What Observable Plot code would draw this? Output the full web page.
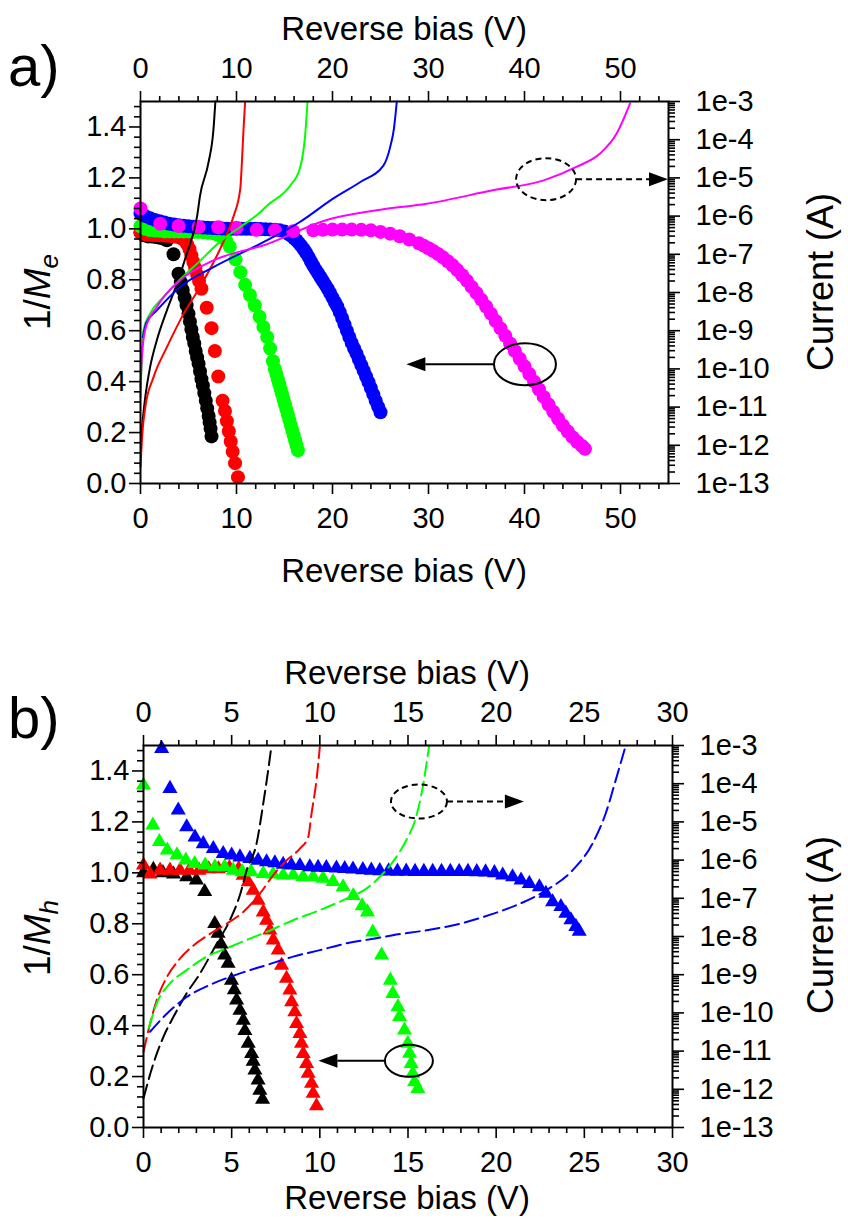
<!DOCTYPE html>
<html>
<head>
<meta charset="utf-8">
<script src="https://cdn.jsdelivr.net/npm/d3@7"></script>
<script src="https://cdn.jsdelivr.net/npm/@observablehq/plot@0.6"></script>
<style>
  body { margin: 0; background: #fff; }
  #fig { position: relative; width: 848px; height: 1222px; background: #fff; }
  #fig svg { position: absolute; left: 0; overflow: visible; }
</style>
</head>
<body>
<div id="fig"></div>
<script>
// ---------- Panel a: electron multiplication (circles) and I–V curves (solid) ----------
// 1/Me versus reverse bias [V, 1/Me]
const meBlack = [[0,0.985],[0.4,0.975],[0.8,0.97],[1.2,0.97],[1.6,0.968],[2.0,0.965],[2.4,0.962],[2.75,0.955],[3.44,0.9],[3.96,0.824],[4.2,0.79],[4.4,0.76],[4.6,0.73],[4.8,0.7],[5.0,0.667],[5.15,0.635],[5.3,0.605],[5.45,0.575],[5.6,0.55],[5.75,0.52],[5.9,0.495],[6.05,0.47],[6.2,0.44],[6.35,0.41],[6.5,0.385],[6.65,0.355],[6.8,0.325],[6.95,0.295],[7.1,0.265],[7.2,0.24],[7.3,0.215],[7.4,0.185]];
const meRed = [[0,0.985],[0.4,0.98],[0.8,0.978],[1.2,0.976],[1.6,0.975],[2.0,0.975],[2.4,0.974],[2.8,0.973],[3.2,0.972],[3.6,0.97],[4.0,0.968],[4.3,0.962],[4.6,0.955],[4.85,0.94],[5.1,0.92],[5.3,0.895],[5.5,0.87],[5.7,0.845],[5.9,0.82],[6.1,0.795],[6.35,0.765],[6.9,0.69],[7.4,0.61],[7.75,0.52],[8.1,0.42],[8.55,0.325],[8.8,0.285],[9.0,0.245],[9.2,0.205],[9.4,0.165],[9.6,0.125],[9.85,0.08],[10.15,0.025]];
const meGreen = [[0,1.01],[0.5,1.0],[1.0,0.995],[1.5,0.993],[2.0,0.992],[2.5,0.99],[3,0.99],[3.5,0.99],[4,0.99],[4.5,0.99],[5,0.99],[5.5,0.988],[6,0.988],[6.5,0.987],[7,0.985],[7.5,0.983],[8,0.978],[8.5,0.968],[8.9,0.955],[9.3,0.93],[9.9,0.88],[10.4,0.83],[10.9,0.78],[11.4,0.74],[11.9,0.7],[12.4,0.655],[12.8,0.615],[13.2,0.575],[13.5,0.53],[13.8,0.48],[14.0,0.45],[14.15,0.43],[14.3,0.41],[14.45,0.39],[14.6,0.37],[14.75,0.35],[14.9,0.33],[15.05,0.31],[15.2,0.29],[15.35,0.27],[15.5,0.25],[15.65,0.23],[15.8,0.21],[15.95,0.19],[16.1,0.17],[16.25,0.15],[16.4,0.13]];
const meBlue = [[0,1.06],[0.5,1.05],[1,1.042],[1.5,1.035],[2,1.03],[2.5,1.025],[3,1.02],[3.5,1.017],[4,1.014],[4.5,1.012],[5,1.01],[5.5,1.008],[6,1.006],[6.5,1.005],[7,1.004],[7.5,1.003],[8,1.002],[8.5,1.001],[9,1.0],[9.5,1.0],[10,1.0],[10.5,1.0],[11,1.0],[11.5,1.0],[12,1.0],[12.5,0.999],[13,0.998],[13.5,0.997],[14,0.996],[14.5,0.994],[15,0.99],[15.25,0.985],[15.5,0.978],[15.75,0.972],[16,0.963],[16.25,0.955],[16.5,0.944],[16.75,0.933],[17,0.92],[17.25,0.906],[17.5,0.89],[17.75,0.872],[18,0.855],[18.25,0.84],[18.5,0.825],[18.75,0.81],[19,0.795],[19.25,0.78],[19.5,0.765],[19.75,0.748],[20,0.73],[20.25,0.712],[20.5,0.695],[20.75,0.673],[21,0.65],[21.25,0.625],[21.5,0.6],[21.75,0.575],[22,0.552],[22.25,0.53],[22.5,0.51],[22.75,0.487],[23,0.465],[23.25,0.443],[23.5,0.42],[23.75,0.398],[24,0.375],[24.25,0.35],[24.5,0.325],[24.75,0.302],[25,0.28]];
const meMagenta = [[0,1.08],[2.05,1.02],[3.96,1.011],[6.05,1.007],[8.1,1.006],[10.0,1.004],[12.1,0.996],[14.0,0.994],[15.9,0.991],[18.0,0.994],[19.0,0.996],[20.0,0.997],[21.0,0.997],[22.0,0.997],[23.0,0.996],[24.0,0.994],[25.0,0.988],[26.0,0.981],[27.0,0.971],[28.0,0.958],[29.0,0.943],[29.5,0.934],[30,0.924],[30.5,0.913],[31,0.901],[31.5,0.888],[32,0.873],[32.5,0.857],[33,0.838],[33.5,0.818],[34,0.796],[34.5,0.772],[35,0.748],[35.5,0.722],[36,0.695],[36.5,0.667],[37,0.638],[37.5,0.609],[38,0.58],[38.5,0.55],[39,0.52],[39.5,0.49],[40,0.46],[40.5,0.43],[41,0.4],[41.5,0.37],[42,0.34],[42.5,0.31],[43,0.282],[43.5,0.254],[44,0.228],[44.5,0.204],[45,0.182],[45.5,0.163],[46,0.147],[46.3,0.136]];

// Current versus reverse bias [V, current in A]
const ivaBlack = [[0.05,1.6e-12],[0.5,1.85e-11],[1.0,1.11e-10],[1.7,5.6e-10],[2.75,3.4e-9],[3.8,1.7e-8],[4.8,1.0e-7],[5.9,1.0e-6],[6.2,3.4e-6],[7.08,2.5e-5],[7.6,1.85e-4],[7.8,1.0e-3]];
const ivaRed = [[0,2.7e-13],[0.2,2.15e-12],[0.5,1.0e-11],[1.36,6.1e-11],[2.75,3.7e-10],[4.5,2.8e-9],[6.2,1.4e-8],[7.9,8.6e-8],[9.0,3.4e-7],[9.7,1.0e-6],[10.4,5.4e-6],[10.56,2.5e-5],[10.73,1.85e-4],[10.9,1.0e-3]];
const ivaGreen = [[0,1.85e-11],[0.3,1.0e-9],[1.0,2.8e-9],[2.4,7.7e-9],[4.1,2.15e-8],[5.9,5.7e-8],[8.6,2.5e-7],[10.4,5.2e-7],[12.5,1.28e-6],[13.2,1.9e-6],[15.6,6.3e-6],[16.6,1.77e-5],[17.15,1.3e-4],[17.4,1.0e-3]];
const ivaBlue = [[0.25,6.8e-10],[0.6,1.6e-9],[1.7,3.4e-9],[4.1,1.38e-8],[7.6,4.6e-8],[12.5,1.9e-7],[16.6,7.0e-7],[20.1,2.9e-6],[22.9,7.8e-6],[25.3,2.1e-5],[26.0,6.3e-5],[26.4,1.96e-4],[26.7,1.0e-3]];
const ivaMagenta = [[0,3.3e-11],[0.15,2.15e-10],[0.5,1.08e-9],[1.7,4.2e-9],[4.1,2.06e-8],[7.6,6.9e-8],[13.2,1.85e-7],[19.4,7.9e-7],[25,1.47e-6],[29.8,2.1e-6],[36.8,4.8e-6],[42.0,8.6e-6],[45.4,1.94e-5],[47.9,4.4e-5],[49.6,1.45e-4],[51.0,8.9e-4]];

// ---------- Panel b: hole multiplication (triangles) and I–V curves (dashed) ----------
const mhBlack = [[0,1.0],[0.56,1.013],[1.1,1.0],[1.7,0.995],[2.45,0.984],[3.0,0.971],[3.47,0.926],[4.04,0.8],[4.23,0.762],[4.4,0.72],[4.6,0.677],[4.8,0.644],[4.99,0.578],[5.15,0.54],[5.28,0.5],[5.47,0.46],[5.66,0.421],[5.75,0.38],[5.94,0.33],[6.13,0.29],[6.22,0.26],[6.32,0.225],[6.5,0.186],[6.6,0.146],[6.75,0.11]];
const mhRed = [[0,1.03],[0.37,0.995],[0.94,1.01],[1.5,1.01],[2.07,1.01],[2.6,1.01],[3.15,1.01],[3.7,1.015],[4.25,1.015],[4.87,1.02],[5.4,1.016],[5.65,0.99],[5.94,0.964],[6.22,0.931],[6.5,0.892],[6.79,0.846],[6.98,0.813],[7.17,0.775],[7.36,0.736],[7.64,0.696],[7.83,0.637],[8.11,0.585],[8.3,0.539],[8.4,0.493],[8.58,0.454],[8.68,0.408],[8.87,0.369],[8.96,0.33],[9.06,0.29],[9.25,0.251],[9.34,0.212],[9.53,0.173],[9.62,0.134],[9.81,0.085]];
const mhGreen = [[0,1.344],[0.53,1.187],[0.9,1.122],[1.35,1.089],[1.9,1.07],[2.4,1.05],[2.9,1.036],[3.5,1.03],[4.05,1.023],[4.6,1.023],[5.09,1.01],[5.6,1.004],[6.1,1.004],[6.79,0.997],[7.35,0.995],[7.92,0.991],[8.49,0.991],[9.05,0.984],[9.62,0.984],[10.18,0.978],[10.75,0.965],[11.32,0.945],[11.9,0.91],[12.4,0.87],[12.7,0.846],[13.0,0.767],[13.5,0.677],[14.0,0.578],[14.14,0.526],[14.43,0.474],[14.52,0.435],[14.8,0.382],[14.99,0.33],[15.09,0.291],[15.18,0.251],[15.27,0.212],[15.37,0.179],[15.56,0.153]];
const mhBlue = [[1.03,1.488],[1.5,1.331],[1.97,1.246],[2.45,1.18],[2.92,1.14],[3.39,1.114],[3.96,1.095],[4.52,1.075],[5.0,1.069],[5.47,1.062],[6.03,1.056],[6.5,1.049],[6.98,1.043],[7.45,1.039],[7.92,1.033],[8.39,1.03],[8.87,1.028],[9.43,1.023],[9.9,1.021],[10.37,1.02],[10.94,1.018],[11.41,1.016],[11.88,1.014],[12.44,1.012],[12.92,1.01],[13.4,1.008],[13.9,1.007],[14.4,1.006],[14.9,1.006],[15.4,1.005],[15.9,1.005],[16.4,1.005],[16.9,1.005],[17.4,1.005],[17.9,1.005],[18.4,1.005],[18.9,1.004],[19.4,1.003],[19.9,1.0],[20.37,0.991],[20.93,0.984],[21.41,0.971],[21.88,0.958],[22.45,0.945],[22.82,0.919],[23.2,0.886],[23.67,0.867],[23.95,0.841],[24.24,0.815],[24.52,0.789],[24.71,0.77]];

const ivbBlack = [[0,5.8e-13],[0.56,4.7e-12],[1.13,2.36e-11],[1.7,7.9e-11],[2.45,3.26e-10],[3.21,1.08e-9],[4.15,6.5e-9],[4.9,2.67e-8],[5.5,1.36e-7],[5.85,5.4e-7],[6.41,2.7e-6],[6.79,3.0e-5],[7.07,2.25e-4],[7.26,1.0e-3]];
const ivbRed = [[0,9.5e-12],[0.28,3.5e-11],[0.75,2.15e-10],[1.32,8.6e-10],[1.98,2.36e-9],[2.83,5.8e-9],[3.77,1.17e-8],[4.71,2.15e-8],[5.66,4.4e-8],[6.6,1.32e-7],[7.35,4.0e-7],[8.11,9.8e-7],[8.87,2.0e-6],[9.34,4.0e-6],[9.53,1.66e-5],[9.81,1.24e-4],[10.0,9.1e-4]];
const ivbGreen = [[0.3,4.0e-11],[0.75,1.77e-10],[1.5,5.9e-10],[2.45,1.32e-9],[3.58,2.97e-9],[4.71,4.9e-9],[5.85,8.1e-9],[6.98,1.32e-8],[8.49,2.67e-8],[10.0,4.9e-8],[11.51,9.8e-8],[12.64,1.79e-7],[13.39,3.6e-7],[14.14,9.0e-7],[14.9,3.3e-6],[15.46,1.36e-5],[15.84,8.3e-5],[16.2,1.0e-3]];
const ivbBlue = [[0.37,3.2e-11],[1.32,9.5e-11],[2.45,2.6e-10],[3.96,5.9e-10],[5.47,1.08e-9],[6.98,1.79e-9],[8.49,2.97e-9],[10.0,4.4e-9],[11.51,6.6e-9],[13.2,9.0e-9],[14.14,1.08e-8],[16.03,1.45e-8],[17.92,2.15e-8],[19.8,3.9e-8],[21.31,7.1e-8],[22.82,1.61e-7],[24.33,5.4e-7],[25.46,2.7e-6],[26.21,1.66e-5],[26.78,1.24e-4],[27.35,1.0e-3]];

// ---------- Axis ticks ----------
const aXTicks = [0, 10, 20, 30, 40, 50];
const bXTicks = [0, 5, 10, 15, 20, 25, 30];
const yTicks = [0, 0.2, 0.4, 0.6, 0.8, 1.0, 1.2, 1.4];
const currentExponents = [-13, -12, -11, -10, -9, -8, -7, -6, -5, -4, -3];

const COLORS = {black: "#000000", red: "#ff0000", green: "#00ff00", blue: "#0000ff", magenta: "#ff00ff"};
const FONT = "'Liberation Sans', Arimo, Arial, sans-serif";

// The current axis (1e-13 … 1e-3 A) shares the frame with 1/M (0 … 1.5)
const toM = (I) => (Math.log10(I) + 13) * 0.15;
const fromM = (m) => Math.round(m / 0.15 - 13);

const yMinor = d3.range(0, 1.5001, 0.04).filter(v => !yTicks.some(t => Math.abs(t - v) < 1e-6));
const curMajor = currentExponents.map(e => toM(10 ** e));
const curMinor = currentExponents.slice(0, -1).flatMap(e => d3.range(2, 10).map(k => toM(k * 10 ** e)));

function axisMarks(xMajor, xMinor) {
  const common = {label: null, stroke: "#000", strokeWidth: 1.6, fontSize: 29};
  const blank = () => "";
  return [
    Plot.axisX({...common, anchor: "bottom", ticks: xMajor, tickSize: 11, tickPadding: 13}),
    Plot.axisX({...common, anchor: "bottom", ticks: xMinor, tickSize: 6, tickFormat: blank}),
    Plot.axisX({...common, anchor: "top", ticks: xMajor, tickSize: 11, tickPadding: 13}),
    Plot.axisX({...common, anchor: "top", ticks: xMinor, tickSize: 6, tickFormat: blank}),
    Plot.axisY({...common, anchor: "left", ticks: yTicks, tickSize: 11, tickPadding: 3, tickFormat: d3.format(".1f")}),
    Plot.axisY({...common, anchor: "left", ticks: yMinor, tickSize: 6, tickFormat: blank}),
    Plot.axisY({...common, anchor: "right", ticks: curMajor, tickSize: 11, tickPadding: 16, tickFormat: m => "1e" + fromM(m)}),
    Plot.axisY({...common, anchor: "right", ticks: curMinor, tickSize: 6, tickFormat: blank})
  ];
}

// Ellipse marking a group of curves, with an arrow pointing to the axis it is read on
function callout({cx, cy, rx, ry, tipX, dashed}) {
  return (index, scales) => {
    const px = scales.x(cx), py = scales.y(cy), tip = scales.x(tipX);
    const g = d3.create("svg:g").attr("stroke", "#000").attr("stroke-width", 2).attr("fill", "none");
    const dash = dashed ? "6,4" : null;
    g.append("ellipse").attr("cx", px).attr("cy", py).attr("rx", rx).attr("ry", ry).attr("stroke-dasharray", dash);
    const dir = tip > px ? 1 : -1;
    const start = px + dir * rx;
    const head = 19;
    g.append("line").attr("x1", start).attr("y1", py).attr("x2", tip - dir * head).attr("y2", py).attr("stroke-dasharray", dash);
    g.append("path").attr("d", `M${tip},${py}L${tip - dir * head},${py - 7}L${tip - dir * head},${py + 7}Z`)
      .attr("fill", "#000").attr("stroke", "none");
    return g.node();
  };
}

function panel({xDomain, xMajor, xMinor, markers, symbol, r, curves, dash, callouts, margins, height}) {
  return Plot.plot({
    width: 848,
    height,
    ...margins,
    x: {domain: xDomain},
    y: {domain: [0, 1.5]},
    style: {fontFamily: FONT, fontSize: "29px", color: "#000", background: "transparent", overflow: "visible"},
    marks: [
      ...markers.map(([pts, c]) => Plot.dot(pts, {x: d => d[0], y: d => d[1], r, symbol, fill: COLORS[c], stroke: "none"})),
      ...curves.map(([pts, c]) => Plot.line(pts, {x: d => d[0], y: d => toM(d[1]), stroke: COLORS[c], strokeWidth: 2, strokeDasharray: dash, curve: "monotone-x"})),
      ...callouts.map(callout),
      Plot.frame({stroke: "#000", strokeWidth: 2}),
      ...axisMarks(xMajor, xMinor)
    ]
  });
}

function addLabels(svg, {tag, tagY, sub, yLabelY, curLabelY, topTitleY, bottomTitleY, centerX}) {
  const s = d3.select(svg);
  const g = s.append("g").attr("font-family", FONT).attr("fill", "#000");
  g.append("text").attr("x", 8).attr("y", tagY).attr("text-anchor", "start").attr("font-size", 58).text(tag);
  for (const y of [topTitleY, bottomTitleY]) {
    g.append("text").attr("x", centerX).attr("y", y).attr("text-anchor", "middle").attr("dy", "0.35em")
      .attr("font-size", 33).text("Reverse bias (V)");
  }
  const yl = g.append("text").attr("transform", `translate(37,${yLabelY}) rotate(-90)`).attr("text-anchor", "middle")
    .attr("dy", "0.35em").attr("font-size", 37);
  yl.append("tspan").text("1/");
  yl.append("tspan").attr("font-style", "italic").text("M");
  yl.append("tspan").attr("font-style", "italic").attr("font-size", 26).attr("dy", "0.3em").text(sub);
  g.append("text").attr("transform", `translate(820,${curLabelY}) rotate(-90)`).attr("text-anchor", "middle")
    .attr("dy", "0.35em").attr("font-size", 36).text("Current (A)");
}

const fig = document.getElementById("fig");

const svgA = panel({
  xDomain: [0, 55], xMajor: aXTicks, xMinor: d3.range(0, 55.1, 2).filter(v => v % 10 !== 0),
  markers: [[meBlack, "black"], [meRed, "red"], [meGreen, "green"], [meBlue, "blue"], [meMagenta, "magenta"]],
  symbol: "circle", r: 7,
  curves: [[ivaBlack, "black"], [ivaRed, "red"], [ivaGreen, "green"], [ivaBlue, "blue"], [ivaMagenta, "magenta"]],
  dash: null,
  callouts: [
    {cx: 42.3, cy: 1.193, rx: 30, ry: 21, tipX: 55, dashed: true},
    {cx: 40.1, cy: 0.466, rx: 31, ry: 21, tipX: 27.75, dashed: false}
  ],
  margins: {marginLeft: 140, marginRight: 180, marginTop: 101, marginBottom: 127},
  height: 610
});
svgA.style.top = "0px";
fig.appendChild(svgA);
addLabels(svgA, {tag: "a)", tagY: 86, sub: "e", yLabelY: 292, curLabelY: 282, topTitleY: 28, bottomTitleY: 570, centerX: 404});

const svgB = panel({
  xDomain: [0, 30], xMajor: bXTicks, xMinor: d3.range(0, 30.1, 1).filter(v => v % 5 !== 0),
  markers: [[mhBlack, "black"], [mhRed, "red"], [mhGreen, "green"], [mhBlue, "blue"]],
  symbol: "triangle", r: 5.6,
  curves: [[ivbBlack, "black"], [ivbRed, "red"], [ivbGreen, "green"], [ivbBlue, "blue"]],
  dash: "14,6",
  callouts: [
    {cx: 15.65, cy: 1.278, rx: 28, ry: 17, tipX: 21.6, dashed: true},
    {cx: 15.08, cy: 0.26, rx: 24, ry: 16, tipX: 9.95, dashed: false}
  ],
  margins: {marginLeft: 143, marginRight: 176, marginTop: 135, marginBottom: 95},
  height: 612
});
svgB.style.top = "610px";
fig.appendChild(svgB);
addLabels(svgB, {tag: "b)", tagY: 128, sub: "h", yLabelY: 328, curLabelY: 315, topTitleY: 62, bottomTitleY: 587, centerX: 407});
</script>
</body>
</html>
